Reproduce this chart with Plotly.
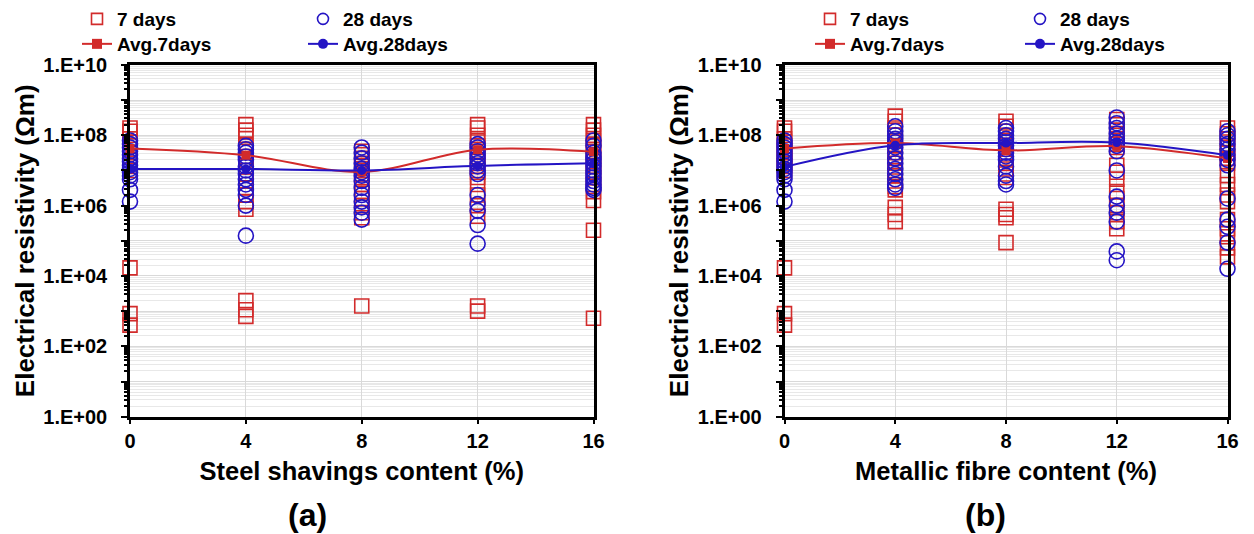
import plotly.graph_objects as go

# ---------------- data ----------------
content = [0, 4, 8, 12, 16]

# Panel (a): steel shavings content
a_7days = [
    [1.6e8, 1.3e8, 7.9e7, 6.3e7, 5.0e7, 4.0e7, 3.2e7, 2.5e7, 2.0e7, 1.6e7, 1.3e7, 1.0e7, 1.7e4, 850, 400],
    [2.0e8, 1.4e8, 1.0e8, 5.0e7, 3.5e7, 2.5e7, 1.8e7, 1.3e7, 7.9e6, 5.0e6, 3.2e6, 2.0e6, 1.3e6, 7.9e5, 2.0e3, 1.1e3, 710],
    [3.5e7, 2.8e7, 2.2e7, 1.6e7, 1.3e7, 1.0e7, 7.9e6, 5.6e6, 4.0e6, 2.5e6, 1.6e6, 1.0e6, 6.3e5, 4.5e5, 1.4e3],
    [2.0e8, 1.6e8, 1.0e8, 7.1e7, 5.0e7, 3.5e7, 2.5e7, 1.8e7, 1.3e7, 8.9e6, 6.3e6, 4.0e6, 2.0e6, 1.0e6, 5.0e5, 1.4e3, 1.0e3],
    [2.0e8, 1.4e8, 1.0e8, 7.1e7, 5.0e7, 3.5e7, 2.5e7, 1.8e7, 1.3e7, 8.9e6, 6.3e6, 4.0e6, 2.5e6, 1.4e6, 2.0e5, 630],
]
a_28days = [
    [7.1e7, 5.6e7, 4.5e7, 3.5e7, 2.8e7, 2.2e7, 1.8e7, 1.4e7, 1.1e7, 8.9e6, 7.1e6, 5.6e6, 2.8e6, 1.3e6],
    [5.0e7, 4.0e7, 3.2e7, 2.5e7, 2.0e7, 1.3e7, 1.0e7, 7.9e6, 5.6e6, 4.0e6, 2.8e6, 2.0e6, 1.0e6, 1.4e5],
    [4.5e7, 3.2e7, 2.2e7, 1.6e7, 1.1e7, 8.9e6, 7.1e6, 5.0e6, 3.2e6, 2.0e6, 1.3e6, 8.9e5, 6.3e5, 4.0e5],
    [5.6e7, 4.5e7, 3.5e7, 2.8e7, 2.2e7, 1.6e7, 1.3e7, 1.0e7, 7.9e6, 2.0e6, 1.1e6, 7.1e5, 2.8e5, 8.3e4],
    [7.1e7, 5.0e7, 3.2e7, 2.5e7, 2.0e7, 1.6e7, 1.3e7, 1.0e7, 7.9e6, 6.3e6, 5.0e6, 4.0e6, 3.2e6, 2.8e6],
]
a_avg7 = [4.2e7, 2.7e7, 9.1e6, 3.9e7, 3.4e7]
a_avg28 = [1.1e7, 1.1e7, 1.0e7, 1.35e7, 1.6e7]

# Panel (b): metallic fibre content
b_7days = [
    [1.6e8, 1.3e8, 7.9e7, 6.3e7, 5.0e7, 4.0e7, 3.2e7, 2.5e7, 2.0e7, 1.6e7, 1.3e7, 1.0e7, 1.7e4, 850, 400],
    [3.5e8, 2.5e8, 1.6e8, 1.0e8, 7.1e7, 5.0e7, 3.2e7, 2.2e7, 1.6e7, 1.0e7, 7.1e6, 5.0e6, 3.5e6, 2.8e6, 8.9e5, 5.6e5, 3.5e5],
    [2.5e8, 1.8e8, 1.3e8, 8.9e7, 6.3e7, 4.5e7, 3.2e7, 2.2e7, 1.6e7, 1.1e7, 7.9e6, 6.3e6, 7.9e5, 5.6e5, 4.5e5, 8.9e4],
    [2.8e8, 2.0e8, 1.4e8, 1.0e8, 7.1e7, 5.6e7, 4.5e7, 1.4e7, 8.9e6, 5.6e6, 2.5e6, 1.6e6, 1.0e6, 6.3e5, 3.5e5, 2.2e5],
    [1.6e8, 1.1e8, 7.9e7, 5.0e7, 3.2e7, 2.2e7, 1.6e7, 7.1e6, 4.0e6, 2.0e6, 1.3e6, 4.0e5, 2.2e5, 1.3e5, 6.3e4, 3.5e4],
]
b_28days = [
    [7.1e7, 5.6e7, 4.5e7, 3.5e7, 2.8e7, 2.2e7, 1.8e7, 1.4e7, 1.1e7, 8.9e6, 7.1e6, 5.6e6, 2.8e6, 1.3e6],
    [1.8e8, 1.3e8, 1.0e8, 7.9e7, 6.3e7, 4.5e7, 3.2e7, 2.2e7, 1.6e7, 1.1e7, 7.9e6, 5.6e6, 4.0e6, 3.2e6],
    [1.6e8, 1.3e8, 1.0e8, 7.9e7, 6.3e7, 5.0e7, 4.0e7, 3.2e7, 2.5e7, 2.0e7, 1.3e7, 7.1e6, 5.0e6, 4.0e6],
    [3.2e8, 2.2e8, 1.6e8, 1.1e8, 7.9e7, 6.3e7, 5.0e7, 3.5e7, 1.0e7, 1.8e6, 1.0e6, 6.3e5, 3.5e5, 5.0e4, 2.8e4],
    [1.3e8, 1.0e8, 7.9e7, 5.6e7, 4.0e7, 2.8e7, 2.0e7, 1.4e7, 1.6e6, 4.0e5, 2.5e5, 8.9e4, 1.6e4],
]
b_avg7 = [4.2e7, 6.0e7, 3.7e7, 4.9e7, 2.2e7]
b_avg28 = [1.26e7, 5.2e7, 6.0e7, 6.2e7, 2.7e7]

y_tick_values = [1e0, 1e1, 1e2, 1e3, 1e4, 1e5, 1e6, 1e7, 1e8, 1e9, 1e10]
y_tick_labels = ["1.E+00", "", "1.E+02", "", "1.E+04", "", "1.E+06", "", "1.E+08", "", "1.E+10"]
x_titles = ["Steel shavings content (%)", "Metallic fibre content (%)"]
y_title = "Electrical resistivity (Ωm)"
panel_labels = ["(a)", "(b)"]
series_names = ["7 days", "28 days", "Avg.7days", "Avg.28days"]

# ---------------- style ----------------
W, H = 1254, 534
RED = "#D22B2B"
BLUE = "#2414C4"
FONT = "Liberation Sans, Arial, sans-serif"
GRID = "#D9D9D9"
MINOR_GRID = "#E8E8E8"

panels = [
    dict(s7=a_7days, s28=a_28days, avg7=a_avg7, avg28=a_avg28,
         xdom=(130 / W, 593.5 / W), leg_x=(77, 303), xref="x", yref="y"),
    dict(s7=b_7days, s28=b_28days, avg7=b_avg7, avg28=b_avg28,
         xdom=(784.5 / W, 1227.5 / W), leg_x=(810, 1020), xref="x2", yref="y2"),
]
ydom = (1 - 416.5 / H, 1 - 64 / H)
leg_rows = (18, 44)

fig = go.Figure()
legend_layouts = {}
leg_counter = 0


def next_legend(xpx, ypx):
    global leg_counter
    leg_counter += 1
    name = "legend" if leg_counter == 1 else f"legend{leg_counter}"
    legend_layouts[name] = dict(
        x=xpx / W, y=1 - ypx / H, xanchor="left", yanchor="middle",
        bgcolor="rgba(0,0,0,0)", borderwidth=0,
        font=dict(family=FONT, size=19, color="black", weight="bold"),
        itemwidth=30, tracegroupgap=0,
    )
    return name


minor_vals = [k * 10 ** d for d in range(10) for k in range(2, 10)]

for i, p in enumerate(panels):
    xs7, ys7, xs28, ys28 = [], [], [], []
    for c, vals in zip(content, p["s7"]):
        xs7 += [c] * len(vals)
        ys7 += vals
    for c, vals in zip(content, p["s28"]):
        xs28 += [c] * len(vals)
        ys28 += vals

    common = dict(xaxis=p["xref"], yaxis=p["yref"], cliponaxis=False)

    fig.add_trace(go.Scatter(
        x=xs7, y=ys7, mode="markers", name=series_names[0], showlegend=False,
        marker=dict(symbol="square-open", size=14, color=RED, line=dict(width=1.6, color=RED)),
        **common))
    fig.add_trace(go.Scatter(
        x=xs28, y=ys28, mode="markers", name=series_names[1], showlegend=False,
        marker=dict(symbol="circle-open", size=15, color=BLUE, line=dict(width=1.6, color=BLUE)),
        **common))
    fig.add_trace(go.Scatter(
        x=content, y=p["avg7"], mode="lines+markers", name=series_names[2], showlegend=False,
        line=dict(color=RED, width=2, shape="spline"),
        marker=dict(symbol="square", size=9, color=RED),
        **common))
    fig.add_trace(go.Scatter(
        x=content, y=p["avg28"], mode="lines+markers", name=series_names[3], showlegend=False,
        line=dict(color=BLUE, width=2, shape="spline"),
        marker=dict(symbol="circle", size=9, color=BLUE),
        **common))

    # legend entries (legend-only, smaller symbols like the original key)
    fig.add_trace(go.Scatter(
        x=[None], y=[None], mode="markers", name=series_names[0],
        marker=dict(symbol="square-open", size=11, color=RED, line=dict(width=1.6, color=RED)),
        legend=next_legend(p["leg_x"][0], leg_rows[0]), **common))
    fig.add_trace(go.Scatter(
        x=[None], y=[None], mode="markers", name=series_names[1],
        marker=dict(symbol="circle-open", size=11, color=BLUE, line=dict(width=1.6, color=BLUE)),
        legend=next_legend(p["leg_x"][1], leg_rows[0]), **common))
    fig.add_trace(go.Scatter(
        x=[None], y=[None], mode="lines+markers", name=series_names[2],
        line=dict(color=RED, width=2), marker=dict(symbol="square", size=10, color=RED),
        legend=next_legend(p["leg_x"][0], leg_rows[1]), **common))
    fig.add_trace(go.Scatter(
        x=[None], y=[None], mode="lines+markers", name=series_names[3],
        line=dict(color=BLUE, width=2), marker=dict(symbol="circle", size=10, color=BLUE),
        legend=next_legend(p["leg_x"][1], leg_rows[1]), **common))

axis_common = dict(
    showline=True, linecolor="black", linewidth=2.5, mirror=True,
    ticks="outside", tickcolor="black", tickwidth=2,
    showgrid=True, gridcolor=GRID, gridwidth=1, zeroline=False,
    tickfont=dict(family=FONT, size=20, color="black", weight="bold"),
)

layout_axes = {}
for i, p in enumerate(panels):
    xkey = "xaxis" if i == 0 else "xaxis2"
    ykey = "yaxis" if i == 0 else "yaxis2"
    layout_axes[xkey] = dict(
        axis_common, domain=list(p["xdom"]), range=[0, 16],
        tickmode="array", tickvals=content, ticklen=5,
        anchor="y" if i == 0 else "y2",
        title=dict(text=x_titles[i], standoff=11,
                   font=dict(family=FONT, size=25.5, color="black", weight="bold")),
    )
    layout_axes[ykey] = dict(
        axis_common, domain=list(ydom), type="log", range=[0, 10],
        tickmode="array", tickvals=y_tick_values, ticktext=y_tick_labels,
        ticklen=6, ticklabelstandoff=10,
        anchor="x" if i == 0 else "x2",
        minor=dict(tickmode="array", tickvals=minor_vals, ticks="outside", ticklen=3,
                   tickwidth=1.5, tickcolor="black", showgrid=True,
                   gridcolor=MINOR_GRID, gridwidth=1),
        title=dict(text=y_title, standoff=2,
                   font=dict(family=FONT, size=26, color="black", weight="bold")),
    )

annotations = []
for lbl, cx in zip(panel_labels, [307, 985]):
    annotations.append(dict(
        text=lbl, x=cx / W, y=1 - 515 / H, xref="paper", yref="paper",
        xanchor="center", yanchor="middle", showarrow=False,
        font=dict(family=FONT, size=32, color="black", weight="bold"),
    ))

fig.update_layout(
    width=W, height=H, template="none",
    margin=dict(l=0, r=0, t=0, b=0),
    paper_bgcolor="white", plot_bgcolor="white",
    showlegend=True, annotations=annotations,
    **layout_axes, **legend_layouts,
)

fig.write_html("out.html")
